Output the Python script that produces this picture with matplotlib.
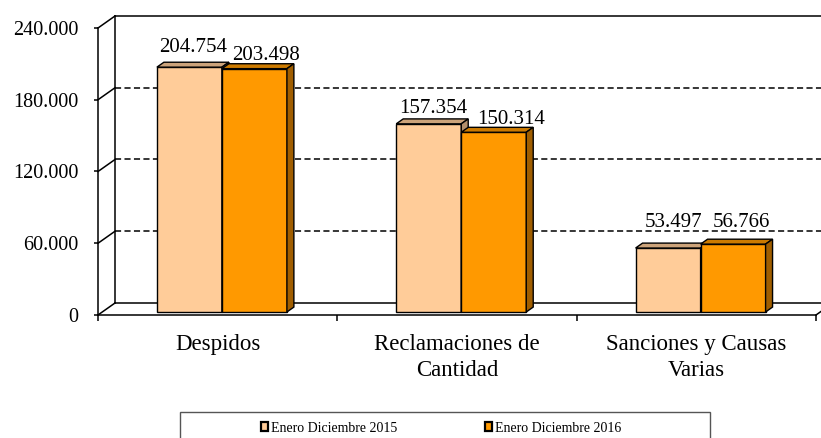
import matplotlib
matplotlib.use("Agg")
import matplotlib.pyplot as plt
from matplotlib.patches import Polygon, Patch, Rectangle

# ---------------- data ----------------
categories = ["Despidos", "Reclamaciones de\nCantidad", "Sanciones y Causas\nVarias"]
series_names = ["Enero Diciembre 2015", "Enero Diciembre 2016"]
values_2015 = [204754, 157354, 53497]
values_2016 = [203498, 150314, 56766]
yticks = [0, 60000, 120000, 180000, 240000]
ytick_labels = ["0", "60.000", "120.000", "180.000", "240.000"]

# ---------------- style ----------------
plt.rcParams['font.family'] = ['Liberation Serif', 'DejaVu Serif']
face_colors = ["#FFCC99", "#FF9900"]
top_colors = ["#CCA37A", "#CC7A00"]
side_colors = ["#B38F6B", "#A05E00"]
# label offsets in pixels (x, y) relative to bar front-top centre
label_offsets = [[(4, 15), (4, 11), (5, 21)],
                 [(12, 9), (17, 8), (8, 17)]]

W, H = 821, 438
fig = plt.figure(figsize=(W / 100, H / 100), dpi=100)
ax = fig.add_axes([98 / W, (H - 315) / H, (816 - 98) / W, 287 / H])
ymax = yticks[-1]
ncat = len(categories)
ax.set_xlim(0, ncat)
ax.set_ylim(0, ymax)

# pixel -> data scale
sx = (816 - 98) / ncat
sy = 287 / ymax
DEPTH = (17, 12)            # full depth offset in pixels
ddx, ddy = DEPTH[0] / sx, DEPTH[1] / sy
f0, fb = 0.25, 0.41          # bar front depth fraction, bar depth fraction
bar_w = 65 / sx

# ---------------- walls / floor ----------------
lc = "black"
lw = 1.1
# back wall
ax.plot([ddx, ddx], [ddy, ymax + ddy], color=lc, lw=lw, clip_on=False, zorder=1)
ax.plot([ddx, ncat + ddx + 1], [ymax + ddy, ymax + ddy], color=lc, lw=lw, clip_on=False, zorder=1)
ax.plot([ddx, ncat + ddx], [ddy, ddy], color=lc, lw=lw, clip_on=False, zorder=1)
ax.plot([ncat, ncat + ddx], [0, ddy], color=lc, lw=lw, clip_on=False, zorder=1)
# gridlines on back wall and left wall diagonals
for v in yticks:
    ax.plot([0, ddx], [v, v + ddy], color=lc, lw=lw, clip_on=False, zorder=1)
    if 0 < v < ymax:
        ax.plot([ddx, ncat + ddx + 1], [v + ddy, v + ddy], color=lc, lw=1.1,
                linestyle=(0, (4, 2.2)), clip_on=False, zorder=1)

# ---------------- bars ----------------
series = [values_2015, values_2016]
for s, vals in enumerate(series):
    for i, v in enumerate(vals):
        xl = i + 0.5 - bar_w + s * bar_w + f0 * ddx
        b = f0 * ddy
        top = b + v
        bdx, bdy = fb * ddx, fb * ddy
        z = 3 + i * 2 + s
        ax.bar(xl, v, width=bar_w, bottom=b, align='edge', color=face_colors[s],
               edgecolor='black', linewidth=1.0, zorder=z, clip_on=False)
        ax.add_patch(Polygon([(xl, top), (xl + bar_w, top), (xl + bar_w + bdx, top + bdy),
                              (xl + bdx, top + bdy)], closed=True, facecolor=top_colors[s],
                             edgecolor='black', linewidth=1.0, zorder=z, clip_on=False))
        ax.add_patch(Polygon([(xl + bar_w, b), (xl + bar_w + bdx, b + bdy),
                              (xl + bar_w + bdx, top + bdy), (xl + bar_w, top)], closed=True,
                             facecolor=side_colors[s], edgecolor='black', linewidth=1.0,
                             zorder=z, clip_on=False))
        lbl = f"{v:,}".replace(",", ".")
        ox, oy = label_offsets[s][i]
        ax.annotate(lbl, xy=(xl + bar_w / 2, top), xytext=(ox, oy), textcoords='offset pixels',
                    ha='center', va='baseline', fontsize=15, zorder=20, annotation_clip=False)

# ---------------- axes ----------------
for sp in ['top', 'right']:
    ax.spines[sp].set_visible(False)
for sp in ['left', 'bottom']:
    ax.spines[sp].set_linewidth(lw)
    ax.spines[sp].set_zorder(2)
ax.set_yticks(yticks)
ax.set_yticklabels(ytick_labels, fontsize=14.5)
ax.tick_params(axis='y', direction='out', length=3, width=lw, pad=11)
ax.set_xticks(range(ncat + 1))
ax.set_xticklabels([""] * (ncat + 1))
ax.tick_params(axis='x', which='major', direction='out', length=4.5, width=lw)
ax.set_xticks([i + 0.5 for i in range(ncat)], minor=True)
ax.set_xticklabels(categories, minor=True, fontsize=16.5, linespacing=1.3)
ax.tick_params(axis='x', which='minor', length=0, pad=14)
ax.patch.set_visible(False)

# ---------------- legend ----------------
fig.patches.append(Rectangle((180 / W, -30 / H), (710 - 180) / W, (H - 412 + 30) / H,
                             transform=fig.transFigure, facecolor='none',
                             edgecolor='#555555', linewidth=1.0))
handles = [Patch(facecolor=face_colors[k], edgecolor='black', linewidth=1.6) for k in range(2)]
fig.legend(handles, series_names, loc='center', bbox_to_anchor=(441 / W, 1 - 428 / H),
           ncol=2, frameon=False, fontsize=10, handlelength=0.55, handleheight=0.55,
           handletextpad=0.2, columnspacing=6.3, borderpad=0, borderaxespad=0)

fig.savefig("out.png", dpi=100)
